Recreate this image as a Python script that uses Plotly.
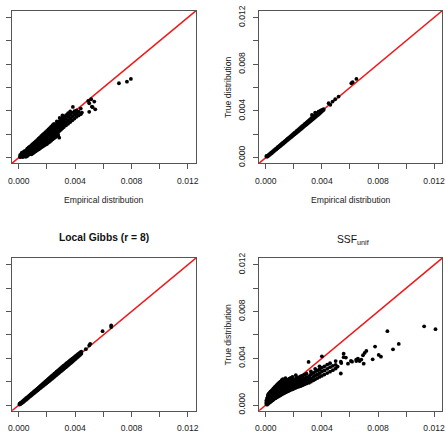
import plotly.graph_objects as go

# ---------------- data ----------------
# each entry: (empirical value, [true values observed at that empirical value])
panel_a = [
    (0.00010, [0.00004, 0.00013, 0.00024]),
    (0.00020, [0.00008, 0.00019, 0.00031, 0.00040]),
    (0.00030, [0.00005, 0.00016, 0.00027, 0.00038, 0.00047]),
    (0.00040, [0.00014, 0.00029, 0.00041, 0.00055]),
    (0.00050, [0.00007, 0.00019, 0.00033, 0.00044, 0.00060]),
    (0.00060, [0.00014, 0.00026, 0.00040, 0.00053, 0.00068, 0.00078]),
    (0.00070, [0.00025, 0.00035, 0.00049, 0.00062, 0.00077, 0.00088]),
    (0.00080, [0.00031, 0.00046, 0.00056, 0.00071, 0.00084, 0.00097]),
    (0.00090, [0.00029, 0.00042, 0.00058, 0.00074, 0.00090, 0.00106]),
    (0.00100, [0.00036, 0.00052, 0.00068, 0.00082, 0.00100, 0.00118]),
    (0.00110, [0.00047, 0.00061, 0.00077, 0.00093, 0.00110, 0.00129]),
    (0.00120, [0.00054, 0.00070, 0.00088, 0.00103, 0.00121, 0.00140]),
    (0.00130, [0.00063, 0.00077, 0.00095, 0.00113, 0.00131, 0.00150]),
    (0.00140, [0.00070, 0.00087, 0.00105, 0.00124, 0.00142, 0.00163]),
    (0.00150, [0.00078, 0.00095, 0.00114, 0.00132, 0.00152, 0.00174]),
    (0.00160, [0.00088, 0.00104, 0.00123, 0.00143, 0.00162, 0.00186]),
    (0.00170, [0.00095, 0.00113, 0.00133, 0.00152, 0.00173, 0.00197]),
    (0.00180, [0.00103, 0.00121, 0.00142, 0.00162, 0.00184, 0.00208]),
    (0.00190, [0.00111, 0.00131, 0.00150, 0.00172, 0.00194, 0.00218]),
    (0.00200, [0.00117, 0.00139, 0.00160, 0.00182, 0.00205, 0.00229]),
    (0.00210, [0.00128, 0.00148, 0.00170, 0.00192, 0.00215, 0.00242]),
    (0.00220, [0.00136, 0.00158, 0.00180, 0.00203, 0.00227, 0.00253]),
    (0.00230, [0.00147, 0.00169, 0.00190, 0.00214, 0.00238, 0.00266]),
    (0.00240, [0.00157, 0.00178, 0.00201, 0.00224, 0.00249, 0.00279]),
    (0.00250, [0.00166, 0.00188, 0.00212, 0.00235, 0.00262, 0.00290]),
    (0.00260, [0.00175, 0.00198, 0.00223, 0.00246, 0.00274]),
    (0.00270, [0.00186, 0.00210, 0.00233, 0.00258, 0.00286, 0.00310]),
    (0.00280, [0.00195, 0.00220, 0.00245, 0.00270, 0.00298]),
    (0.00287, [0.00171]),
    (0.00290, [0.00230, 0.00256, 0.00282, 0.00312, 0.00340]),
    (0.00300, [0.00240, 0.00266, 0.00294, 0.00324]),
    (0.00310, [0.00252, 0.00278, 0.00305, 0.00338, 0.00362]),
    (0.00320, [0.00262, 0.00290, 0.00316, 0.00346]),
    (0.00335, [0.00276, 0.00304, 0.00332, 0.00363]),
    (0.00350, [0.00290, 0.00320, 0.00350, 0.00380]),
    (0.00365, [0.00305, 0.00336, 0.00366, 0.00395]),
    (0.00380, [0.00320, 0.00352, 0.00383]),
    (0.00384, [0.00434]),
    (0.00395, [0.00335, 0.00366, 0.00398]),
    (0.00410, [0.00350, 0.00380, 0.00405]),
    (0.00425, [0.00362, 0.00393]),
    (0.00440, [0.00372, 0.00420]),
    (0.00448, [0.00386]),
    (0.00493, [0.00486]),
    (0.00500, [0.00466, 0.00392]),
    (0.00514, [0.00500]),
    (0.00519, [0.00437]),
    (0.00524, [0.00432]),
    (0.00536, [0.00480]),
    (0.00543, [0.00414]),
    (0.00711, [0.00637]),
    (0.00768, [0.00651]),
    (0.00796, [0.00674]),
]

panel_b = [
    (0.00005, [0.00008, 0.00015]),
    (0.00012, [0.00010, 0.00018]),
    (0.00020, [0.00017, 0.00024]),
    (0.00028, [0.00025, 0.00032]),
    (0.00036, [0.00033, 0.00040]),
    (0.00044, [0.00040, 0.00048]),
    (0.00052, [0.00049, 0.00056]),
    (0.00060, [0.00056, 0.00064]),
    (0.00068, [0.00065, 0.00072]),
    (0.00076, [0.00072, 0.00080]),
    (0.00084, [0.00080, 0.00089]),
    (0.00092, [0.00088, 0.00097]),
    (0.00100, [0.00096, 0.00105]),
    (0.00108, [0.00104, 0.00113]),
    (0.00116, [0.00112, 0.00121]),
    (0.00124, [0.00120, 0.00129]),
    (0.00132, [0.00128, 0.00137]),
    (0.00140, [0.00136, 0.00146]),
    (0.00148, [0.00144, 0.00154]),
    (0.00156, [0.00152, 0.00162]),
    (0.00164, [0.00160, 0.00170]),
    (0.00172, [0.00168, 0.00178]),
    (0.00180, [0.00175, 0.00186]),
    (0.00188, [0.00183, 0.00194]),
    (0.00196, [0.00191, 0.00203]),
    (0.00204, [0.00199, 0.00211]),
    (0.00212, [0.00207, 0.00219]),
    (0.00220, [0.00214, 0.00228]),
    (0.00228, [0.00222, 0.00236]),
    (0.00236, [0.00230, 0.00244]),
    (0.00244, [0.00238, 0.00252]),
    (0.00252, [0.00246, 0.00261]),
    (0.00260, [0.00254, 0.00269]),
    (0.00268, [0.00262, 0.00277]),
    (0.00276, [0.00270, 0.00286]),
    (0.00284, [0.00278, 0.00294]),
    (0.00292, [0.00286, 0.00302]),
    (0.00300, [0.00294, 0.00311]),
    (0.00308, [0.00302, 0.00319]),
    (0.00316, [0.00310, 0.00328]),
    (0.00324, [0.00318, 0.00336]),
    (0.00329, [0.00366]),
    (0.00332, [0.00326, 0.00345]),
    (0.00340, [0.00334, 0.00352]),
    (0.00348, [0.00342, 0.00362]),
    (0.00352, [0.00386]),
    (0.00356, [0.00350, 0.00370]),
    (0.00364, [0.00358, 0.00378]),
    (0.00372, [0.00366, 0.00386]),
    (0.00376, [0.00394]),
    (0.00380, [0.00374, 0.00394]),
    (0.00390, [0.00384, 0.00402]),
    (0.00400, [0.00395, 0.00409]),
    (0.00412, [0.00408, 0.00416]),
    (0.00448, [0.00466]),
    (0.00460, [0.00452]),
    (0.00476, [0.00480]),
    (0.00495, [0.00500]),
    (0.00519, [0.00523]),
    (0.00610, [0.00637]),
    (0.00619, [0.00646]),
    (0.00646, [0.00674]),
]

panel_c = [
    (0.00005, [0.00004, 0.00012]),
    (0.00012, [0.00008, 0.00018]),
    (0.00020, [0.00015, 0.00025]),
    (0.00028, [0.00022, 0.00033]),
    (0.00036, [0.00030, 0.00041]),
    (0.00044, [0.00038, 0.00050]),
    (0.00052, [0.00046, 0.00058]),
    (0.00060, [0.00054, 0.00066]),
    (0.00068, [0.00062, 0.00074]),
    (0.00076, [0.00070, 0.00082]),
    (0.00084, [0.00078, 0.00091]),
    (0.00092, [0.00086, 0.00099]),
    (0.00100, [0.00094, 0.00107]),
    (0.00108, [0.00102, 0.00116]),
    (0.00116, [0.00110, 0.00124]),
    (0.00124, [0.00117, 0.00132]),
    (0.00132, [0.00125, 0.00141]),
    (0.00140, [0.00133, 0.00149]),
    (0.00148, [0.00141, 0.00157]),
    (0.00156, [0.00148, 0.00166]),
    (0.00164, [0.00156, 0.00174]),
    (0.00172, [0.00164, 0.00183]),
    (0.00180, [0.00172, 0.00191]),
    (0.00188, [0.00179, 0.00200]),
    (0.00196, [0.00187, 0.00208]),
    (0.00204, [0.00195, 0.00217]),
    (0.00212, [0.00202, 0.00225]),
    (0.00220, [0.00210, 0.00234]),
    (0.00228, [0.00218, 0.00242]),
    (0.00236, [0.00226, 0.00251]),
    (0.00244, [0.00234, 0.00259]),
    (0.00252, [0.00242, 0.00268]),
    (0.00260, [0.00250, 0.00276]),
    (0.00268, [0.00258, 0.00285]),
    (0.00276, [0.00266, 0.00293]),
    (0.00284, [0.00274, 0.00301]),
    (0.00292, [0.00282, 0.00309]),
    (0.00300, [0.00290, 0.00318]),
    (0.00308, [0.00298, 0.00326]),
    (0.00316, [0.00306, 0.00334]),
    (0.00324, [0.00314, 0.00342]),
    (0.00332, [0.00322, 0.00350]),
    (0.00340, [0.00330, 0.00358]),
    (0.00348, [0.00338, 0.00366]),
    (0.00356, [0.00347, 0.00373]),
    (0.00364, [0.00355, 0.00381]),
    (0.00372, [0.00363, 0.00389]),
    (0.00380, [0.00371, 0.00396]),
    (0.00388, [0.00380, 0.00404]),
    (0.00396, [0.00388, 0.00412]),
    (0.00404, [0.00396, 0.00420]),
    (0.00412, [0.00405, 0.00428]),
    (0.00420, [0.00413, 0.00436]),
    (0.00428, [0.00422, 0.00442]),
    (0.00436, [0.00430, 0.00450]),
    (0.00444, [0.00440, 0.00456]),
    (0.00476, [0.00478]),
    (0.00500, [0.00510]),
    (0.00507, [0.00524]),
    (0.00595, [0.00632]),
    (0.00656, [0.00667, 0.00681]),
]

panel_d = [
    (0.00004, [0.00008, 0.00022, 0.00038]),
    (0.00009, [0.00003, 0.00015, 0.00030, 0.00046, 0.00060]),
    (0.00015, [0.00010, 0.00024, 0.00040, 0.00055, 0.00070, 0.00086]),
    (0.00021, [0.00016, 0.00033, 0.00048, 0.00064, 0.00080, 0.00097]),
    (0.00027, [0.00022, 0.00038, 0.00057, 0.00073, 0.00090, 0.00105]),
    (0.00033, [0.00027, 0.00044, 0.00060, 0.00079, 0.00096, 0.00115]),
    (0.00040, [0.00033, 0.00051, 0.00068, 0.00085, 0.00103, 0.00122]),
    (0.00047, [0.00040, 0.00057, 0.00076, 0.00093, 0.00112, 0.00130]),
    (0.00054, [0.00046, 0.00064, 0.00081, 0.00100, 0.00119, 0.00141]),
    (0.00061, [0.00053, 0.00070, 0.00089, 0.00109, 0.00128, 0.00150]),
    (0.00069, [0.00059, 0.00078, 0.00096, 0.00116, 0.00137, 0.00160]),
    (0.00077, [0.00064, 0.00084, 0.00104, 0.00125, 0.00147, 0.00171]),
    (0.00086, [0.00071, 0.00091, 0.00112, 0.00133, 0.00156, 0.00182]),
    (0.00095, [0.00077, 0.00097, 0.00119, 0.00141, 0.00164, 0.00191]),
    (0.00104, [0.00084, 0.00105, 0.00126, 0.00149, 0.00173, 0.00200]),
    (0.00113, [0.00090, 0.00110, 0.00133, 0.00156, 0.00180, 0.00212]),
    (0.00122, [0.00096, 0.00118, 0.00140, 0.00164, 0.00189, 0.00221]),
    (0.00131, [0.00102, 0.00125, 0.00148, 0.00171, 0.00197]),
    (0.00140, [0.00108, 0.00131, 0.00155, 0.00179, 0.00205, 0.00230]),
    (0.00149, [0.00113, 0.00137, 0.00160, 0.00185, 0.00212]),
    (0.00158, [0.00118, 0.00142, 0.00166, 0.00191, 0.00218]),
    (0.00168, [0.00124, 0.00148, 0.00172, 0.00197, 0.00225]),
    (0.00178, [0.00129, 0.00154, 0.00178, 0.00203, 0.00233]),
    (0.00190, [0.00135, 0.00160, 0.00185, 0.00210, 0.00240]),
    (0.00202, [0.00141, 0.00166, 0.00191, 0.00218]),
    (0.00214, [0.00147, 0.00173, 0.00198, 0.00225, 0.00255]),
    (0.00226, [0.00154, 0.00179, 0.00205, 0.00232]),
    (0.00238, [0.00158, 0.00185, 0.00211, 0.00238]),
    (0.00250, [0.00163, 0.00191, 0.00218, 0.00247]),
    (0.00263, [0.00170, 0.00197, 0.00224, 0.00252]),
    (0.00276, [0.00178, 0.00204, 0.00231, 0.00260]),
    (0.00290, [0.00184, 0.00211, 0.00239, 0.00268]),
    (0.00305, [0.00369, 0.00220]),
    (0.00308, [0.00191, 0.00247]),
    (0.00322, [0.00200, 0.00229, 0.00263, 0.00288]),
    (0.00338, [0.00211, 0.00241, 0.00274]),
    (0.00352, [0.00220, 0.00251, 0.00284, 0.00310]),
    (0.00368, [0.00231, 0.00262, 0.00296]),
    (0.00383, [0.00241, 0.00273, 0.00304, 0.00331]),
    (0.00400, [0.00250, 0.00286, 0.00319, 0.00417]),
    (0.00418, [0.00261, 0.00296, 0.00331]),
    (0.00438, [0.00274, 0.00310, 0.00346]),
    (0.00458, [0.00286, 0.00324, 0.00358]),
    (0.00478, [0.00298, 0.00336]),
    (0.00498, [0.00312, 0.00344, 0.00376]),
    (0.00512, [0.00329]),
    (0.00535, [0.00270, 0.00371]),
    (0.00538, [0.00360]),
    (0.00555, [0.00440, 0.00410]),
    (0.00571, [0.00406]),
    (0.00586, [0.00354]),
    (0.00607, [0.00377]),
    (0.00615, [0.00371]),
    (0.00645, [0.00389, 0.00377]),
    (0.00657, [0.00397]),
    (0.00669, [0.00377]),
    (0.00681, [0.00389]),
    (0.00693, [0.00426]),
    (0.00698, [0.00354]),
    (0.00705, [0.00446]),
    (0.00717, [0.00463]),
    (0.00762, [0.00391]),
    (0.00779, [0.00500]),
    (0.00805, [0.00429]),
    (0.00821, [0.00414]),
    (0.00867, [0.00632]),
    (0.00907, [0.00477]),
    (0.00948, [0.00523]),
    (0.01129, [0.00674]),
    (0.01210, [0.00649]),
]

tick_values = [0.000, 0.004, 0.008, 0.012]
tick_labels = ["0.000", "0.004", "0.008", "0.012"]
minor_step = 0.002
axis_range = [-0.000484, 0.012584]
diagonal = [-0.001, 0.013]

# ---------------- figure ----------------
W, H = 446, 437
FONT = "Liberation Sans, Arial, sans-serif"


def px_x(p):
    return p / W


def px_y(p):
    return 1 - p / H


panels = [
    (panel_a, (12, 196), (10.7, 163.3)),
    (panel_b, (259, 442.3), (10.7, 163.3)),
    (panel_c, (12, 196), (258, 410.7)),
    (panel_d, (259, 442.3), (258, 410.7)),
]

fig = go.Figure()
layout = {}
for i, (pdata, (x0, x1), (y0, y1)) in enumerate(panels):
    n = "" if i == 0 else str(i + 1)
    xs, ys = [], []
    for ex, trues in pdata:
        for t in trues:
            xs.append(ex)
            ys.append(t)
    fig.add_trace(go.Scatter(x=diagonal, y=diagonal, mode="lines",
                             line=dict(color="#f01818", width=1.5),
                             xaxis="x" + n, yaxis="y" + n, hoverinfo="skip"))
    fig.add_trace(go.Scatter(x=xs, y=ys, mode="markers",
                             marker=dict(color="black", size=3.8, line=dict(width=0)),
                             xaxis="x" + n, yaxis="y" + n))
    common = dict(range=axis_range, showgrid=False, zeroline=False, automargin=False,
                  showline=True, mirror=True, linecolor="#555", linewidth=1,
                  ticks="outside", ticklen=5, tickwidth=1, tickcolor="#555",
                  tickvals=tick_values, ticktext=tick_labels,
                  minor=dict(ticks="outside", ticklen=5, tickwidth=1, tickcolor="#555",
                             tick0=0, dtick=minor_step, showgrid=False),
                  tickfont=dict(family=FONT, size=8.6, color="#222"))
    layout["xaxis" + n] = dict(common, domain=[px_x(x0), px_x(x1)],
                               anchor="y" + n, ticklabelstandoff=4)
    layout["yaxis" + n] = dict(common, domain=[px_y(y1), px_y(y0)],
                               anchor="x" + n, tickangle=-90, ticklabelstandoff=5)

annotations = [
    dict(text="Empirical distribution", x=px_x(104), y=px_y(200)),
    dict(text="Empirical distribution", x=px_x(350.5), y=px_y(200)),
    dict(text="True distribution", x=px_x(228), y=px_y(87), textangle=-90),
    dict(text="True distribution", x=px_x(228), y=px_y(334.4), textangle=-90),
    dict(text="<b>Local Gibbs (r = 8)</b>", x=px_x(104), y=px_y(237.5),
         font=dict(family=FONT, size=10.3, color="#111")),
    dict(text="SSF<sub>unif</sub>", x=px_x(353), y=px_y(240),
         font=dict(family=FONT, size=10.3, color="#111")),
]
for a in annotations:
    a.setdefault("font", dict(family=FONT, size=8.6, color="#222"))
    a.update(xref="paper", yref="paper", showarrow=False,
             xanchor="center", yanchor="middle")

fig.update_layout(**layout)
fig.update_layout(width=W, height=H, margin=dict(l=0, r=0, t=0, b=0),
                  paper_bgcolor="white", plot_bgcolor="white",
                  showlegend=False, annotations=annotations)

fig.write_html("out.html")
